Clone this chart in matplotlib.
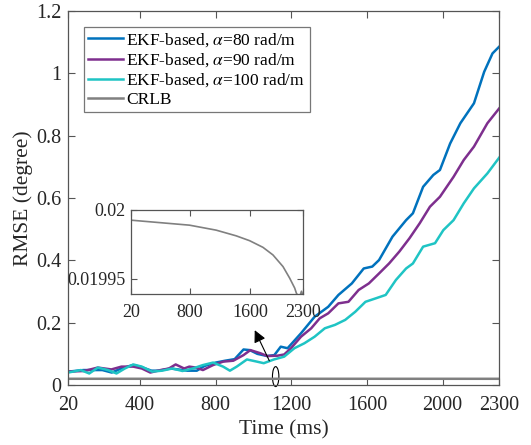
import numpy as np
import matplotlib
matplotlib.use("Agg")
import matplotlib.pyplot as plt
from matplotlib.patches import Ellipse

# ==================== data ====================
t_80   = [20, 100, 200, 250, 300, 360, 400, 460, 500, 560, 600, 650, 700, 740, 800,
          850, 900, 947, 980, 1020, 1072, 1110, 1144, 1180, 1251, 1323, 1395, 1449,
          1520, 1583, 1628, 1664, 1735, 1807, 1843, 1897, 1951, 1986, 2040, 2094,
          2166, 2220, 2264, 2300]
rmse_80 = [0.043, 0.048, 0.048, 0.040, 0.053, 0.064, 0.059, 0.046, 0.046, 0.053, 0.050,
           0.046, 0.046, 0.061, 0.072, 0.078, 0.083, 0.114, 0.112, 0.100, 0.093, 0.096,
           0.123, 0.118, 0.166, 0.219, 0.251, 0.289, 0.326, 0.374, 0.380, 0.401, 0.476,
           0.529, 0.551, 0.636, 0.674, 0.690, 0.775, 0.840, 0.904, 1.005, 1.064, 1.086]

t_90   = [20, 104, 176, 248, 301, 364, 409, 454, 508, 552, 588, 633, 660, 696, 732,
          786, 839, 893, 947, 983, 1036, 1072, 1126, 1162, 1198, 1251, 1305, 1350,
          1395, 1449, 1502, 1556, 1610, 1664, 1717, 1771, 1825, 1879, 1933, 1986,
          2058, 2112, 2166, 2237, 2300]
rmse_90 = [0.043, 0.045, 0.056, 0.050, 0.059, 0.059, 0.053, 0.040, 0.048, 0.053, 0.066,
           0.053, 0.059, 0.056, 0.048, 0.064, 0.075, 0.078, 0.096, 0.112, 0.102, 0.093,
           0.094, 0.098, 0.118, 0.155, 0.182, 0.214, 0.230, 0.262, 0.267, 0.305, 0.326,
           0.358, 0.390, 0.428, 0.471, 0.519, 0.572, 0.604, 0.668, 0.722, 0.765, 0.840,
           0.888]

t_100   = [20, 86, 131, 176, 230, 275, 319, 364, 409, 463, 516, 570, 624, 678, 732,
           786, 839, 875, 911, 965, 1018, 1054, 1108, 1162, 1216, 1269, 1323, 1377,
           1431, 1485, 1538, 1592, 1646, 1699, 1753, 1807, 1843, 1897, 1960, 2004,
           2058, 2112, 2166, 2237, 2300]
rmse_100 = [0.040, 0.048, 0.037, 0.056, 0.048, 0.037, 0.053, 0.066, 0.059, 0.043, 0.046,
            0.053, 0.045, 0.053, 0.064, 0.072, 0.059, 0.046, 0.059, 0.082, 0.075, 0.070,
            0.082, 0.091, 0.118, 0.134, 0.155, 0.182, 0.193, 0.209, 0.235, 0.267, 0.278,
            0.289, 0.337, 0.374, 0.390, 0.444, 0.455, 0.497, 0.529, 0.583, 0.631, 0.679,
            0.730]

t_crlb = [20, 795, 1149, 1414, 1592, 1769, 1902, 2035, 2123, 2190, 2212, 2250, 2280, 2300]
crlb   = [0.0199923, 0.0199887, 0.0199851, 0.019981, 0.0199775, 0.0199727, 0.0199672,
          0.0199588, 0.0199505, 0.0199433, 0.0199397, 0.019936, 0.019941, 0.019938]

labels = [r"EKF-based, $\alpha$=80 rad/m", r"EKF-based, $\alpha$=90 rad/m",
          r"EKF-based, $\alpha$=100 rad/m", "CRLB"]
colors = ["#0072BD", "#7E2F8E", "#1FC4C4", "#808080"]

x_ticks     = [20, 400, 800, 1200, 1600, 2000, 2300]
y_ticks     = [0, 0.2, 0.4, 0.6, 0.8, 1.0, 1.2]
y_ticklabs  = ["0", "0.2", "0.4", "0.6", "0.8", "1", "1.2"]
in_x_ticks  = [20, 800, 1600, 2300]
in_y_ticks  = [0.01995, 0.02]
in_y_labs   = ["0.01995", "0.02"]

# ==================== style ====================
plt.rcParams["font.family"] = ["Liberation Serif", "DejaVu Serif"]
plt.rcParams["mathtext.fontset"] = "stix"
AX_COLOR = "#555555"


def style_axes(ax, size):
    for sp in ax.spines.values():
        sp.set_color(AX_COLOR)
        sp.set_linewidth(0.9)
    ax.tick_params(direction="in", top=True, right=True, length=5, width=0.8,
                   color=AX_COLOR, labelsize=size, labelcolor="#262626", pad=5)


# ==================== plot ====================
fig = plt.figure(figsize=(5.31, 4.45), dpi=100)
ax = fig.add_axes([0.1286, 0.1348, 0.8117, 0.8404])

ax.plot(t_80, rmse_80, color=colors[0], lw=1.8, label=labels[0])
ax.plot(t_90, rmse_90, color=colors[1], lw=1.8, label=labels[1])
ax.plot(t_100, rmse_100, color=colors[2], lw=1.8, label=labels[2])
ax.plot(t_crlb, crlb, color=colors[3], lw=1.8, label=labels[3])

ax.set_xlim(20, 2300)
ax.set_ylim(0, 1.2)
ax.set_xticks(x_ticks)
ax.set_yticks(y_ticks)
ax.set_yticklabels(y_ticklabs)
ax.set_xlabel("Time (ms)", fontsize=15.5, color="#262626", labelpad=4)
ax.set_ylabel("RMSE (degree)", fontsize=15.5, color="#262626", labelpad=2)
style_axes(ax, 14.5)
ax.tick_params(axis="x", pad=8)

leg = ax.legend(loc="upper left", fontsize=12.5, frameon=True, fancybox=False,
                edgecolor=AX_COLOR, handlelength=2.0, handletextpad=0.2,
                borderpad=0.25, labelspacing=0.15, borderaxespad=0.9)
leg.get_frame().set_linewidth(0.9)

# ellipse + arrow pointing to inset
ax.add_patch(Ellipse((1117, 0.027), 34, 0.064, fill=False, ec="black", lw=0.8,
                     clip_on=False))
ax.annotate("", xy=(1000, 0.184), xytext=(1090, 0.0695),
            arrowprops=dict(arrowstyle="-|>", color="black", lw=0.8,
                            mutation_scale=18))

# inset
axi = fig.add_axes([0.2467, 0.3393, 0.3239, 0.1899])
axi.plot(t_crlb, crlb, color=colors[3], lw=1.2)
axi.set_xlim(20, 2300)
axi.set_ylim(0.019939, 0.02)
axi.set_xticks(in_x_ticks)
axi.set_yticks(in_y_ticks)
axi.set_yticklabels(in_y_labs)
style_axes(axi, 13)
axi.tick_params(length=4, pad=4)
axi.tick_params(axis="x", pad=7)

fig.savefig("out.png", dpi=100)
